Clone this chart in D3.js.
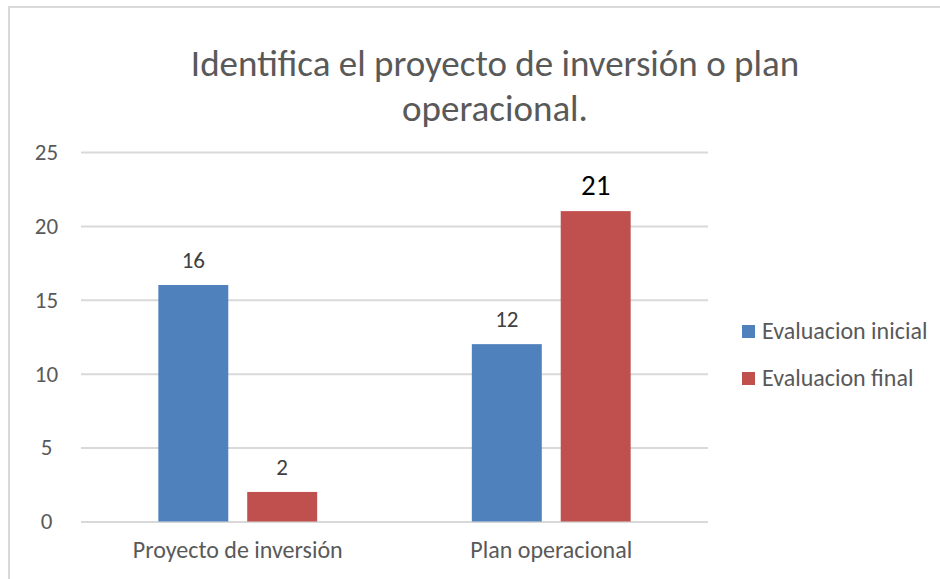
<!DOCTYPE html>
<meta charset="utf-8">
<style>
body { margin: 0; background: #fff; }
svg text { font-family: Carlito, "Open Sans", "Noto Sans", sans-serif; }
.grid line { stroke: #d9d9d9; stroke-width: 2px; }
.grid .domain { display: none; }
.yaxis text, .xaxis text { fill: #595959; }
</style>
<body>
<script src="https://d3js.org/d3.v7.min.js"></script>
<script>
var categories = ["Proyecto de inversión", "Plan operacional"];
var seriesNames = ["Evaluacion inicial", "Evaluacion final"];
var inicial = [16, 12];
var final = [2, 21];
var yTicks = [0, 5, 10, 15, 20, 25];
var titleLines = ["Identifica el proyecto de inversión o plan", "operacional."];
var colors = ["#4f81bd", "#c0504d"];

var width = 940, height = 579;
var margin = {left: 81, right: 232, top: 152, bottom: 58};

var svg = d3.select("body").append("svg")
  .attr("width", width)
  .attr("height", height);

// chart frame, only left and top edges are visible in the shot
svg.append("rect")
  .attr("x", 9).attr("y", 7)
  .attr("width", 960).attr("height", 600)
  .attr("fill", "none")
  .attr("stroke", "#d9d9d9")
  .attr("stroke-width", 2);

var x0 = d3.scaleBand()
  .domain(categories)
  .range([margin.left, width - margin.right]);

var x1 = d3.scaleBand()
  .domain(seriesNames)
  .range([0, x0.bandwidth()])
  .paddingInner(0.213)
  .paddingOuter(0.87);

var y = d3.scaleLinear()
  .domain([0, 25])
  .range([height - margin.bottom + 0.5, margin.top]);

svg.append("g")
  .attr("class", "grid")
  .attr("transform", "translate(" + margin.left + ",0)")
  .call(d3.axisLeft(y).tickValues(yTicks).tickSize(-(width - margin.left - margin.right)).tickFormat(""));

var yAxis = svg.append("g")
  .attr("class", "yaxis")
  .attr("transform", "translate(" + margin.left + ",0)")
  .call(d3.axisLeft(y).tickValues(yTicks).tickSize(0).tickPadding(23));
yAxis.select(".domain").remove();
yAxis.selectAll("text").style("font-size", "23px").attr("text-anchor", "middle").attr("dx", "-0.5em");

var xAxis = svg.append("g")
  .attr("class", "xaxis")
  .attr("transform", "translate(0," + y(0) + ")")
  .call(d3.axisBottom(x0).tickSize(0).tickPadding(19));
xAxis.select(".domain").remove();
xAxis.selectAll("text").style("font-size", "24px");

var rows = categories.map(function(c, i) {
  return {cat: c, vals: [inicial[i], final[i]]};
});

var groups = svg.selectAll(".cat")
  .data(rows)
  .enter().append("g")
  .attr("transform", function(d) { return "translate(" + x0(d.cat) + ",0)"; });

groups.selectAll("rect")
  .data(function(d) { return d.vals.map(function(v, j) { return {s: seriesNames[j], v: v, j: j}; }); })
  .enter().append("rect")
  .attr("x", function(d) { return x1(d.s); })
  .attr("y", function(d) { return y(d.v); })
  .attr("width", x1.bandwidth())
  .attr("height", function(d) { return y(0) - y(d.v); })
  .attr("fill", function(d) { return colors[d.j]; });

groups.selectAll(".lbl")
  .data(function(d) { return d.vals.map(function(v, j) { return {s: seriesNames[j], v: v, j: j}; }); })
  .enter().append("text")
  .attr("class", "lbl")
  .attr("x", function(d) { return x1(d.s) + x1.bandwidth() / 2; })
  .attr("y", function(d) { return y(d.v) - (d.v === 21 ? 16 : 17); })
  .attr("text-anchor", "middle")
  .style("font-size", function(d) { return d.v === 21 ? "29px" : "23px"; })
  .style("fill", function(d) { return d.v === 21 ? "#000" : "#404040"; })
  .text(function(d) { return d.v; });

// title
svg.selectAll(".title")
  .data(titleLines)
  .enter().append("text")
  .attr("class", "title")
  .attr("x", 495)
  .attr("y", function(d, i) { return 76 + i * 45; })
  .attr("text-anchor", "middle")
  .style("font-size", "37px")
  .style("fill", "#595959")
  .text(function(d) { return d; });

// legend
var legend = svg.selectAll(".legend")
  .data(seriesNames)
  .enter().append("g")
  .attr("transform", function(d, i) { return "translate(742," + (325 + i * 47) + ")"; });

legend.append("rect")
  .attr("width", 13).attr("height", 13)
  .attr("fill", function(d, i) { return colors[i]; });

legend.append("text")
  .attr("x", 20).attr("y", 14)
  .style("font-size", "24px")
  .style("fill", "#595959")
  .text(function(d) { return d; });
</script>
